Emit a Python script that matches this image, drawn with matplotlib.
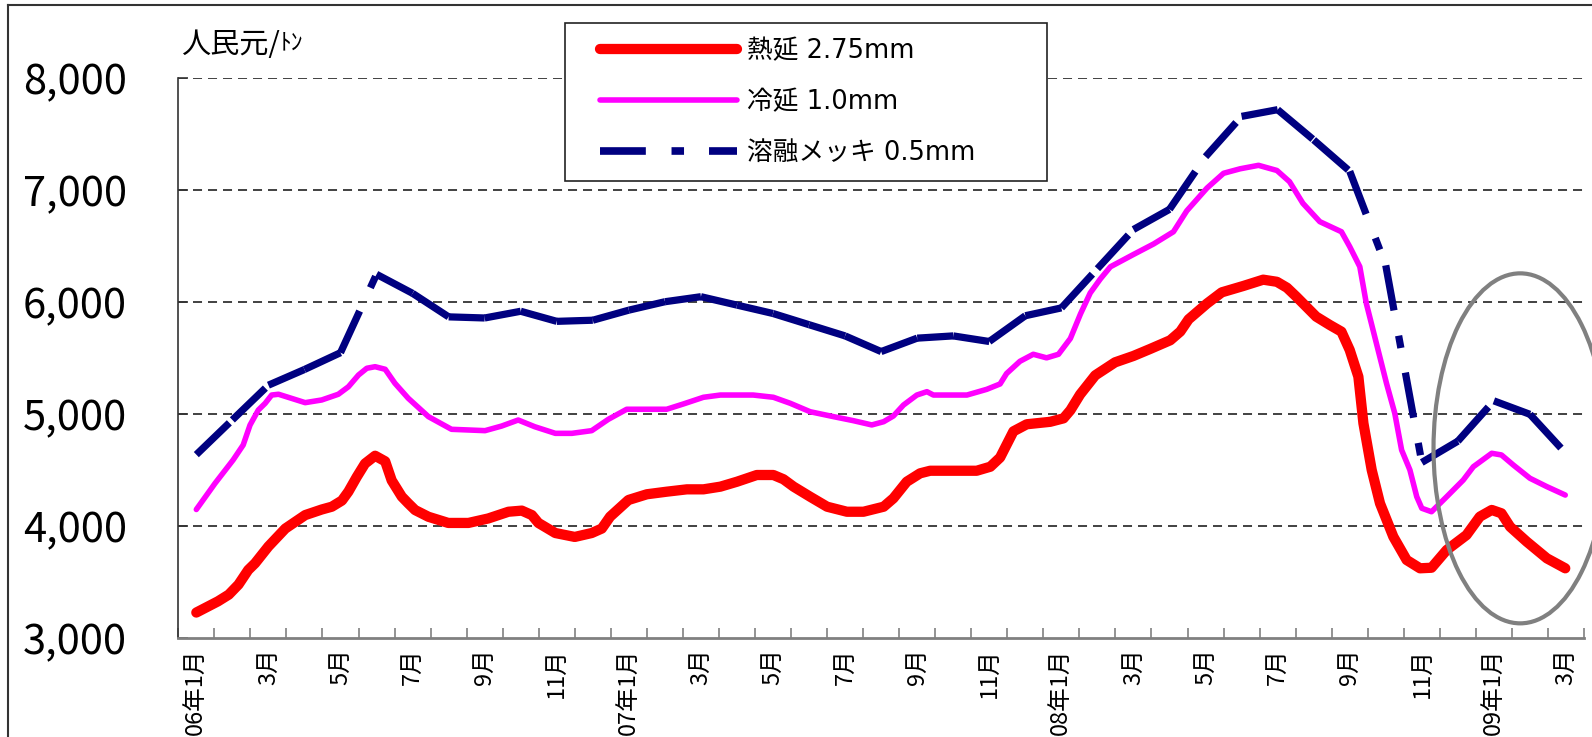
import numpy as np
import matplotlib
matplotlib.use("Agg")
import matplotlib.pyplot as plt
from matplotlib.lines import Line2D
from matplotlib.patches import Ellipse
from matplotlib.legend_handler import HandlerLine2D

plt.rcParams['font.family'] = ['Noto Sans CJK JP', 'DejaVu Sans']
plt.rcParams['lines.scale_dashes'] = False

# 時点は06年1月からの経過月数
red_t = [0.0, 0.3, 0.6, 0.9, 1.17, 1.44, 1.63, 2.0, 2.47, 3.02, 3.48, 3.76, 4.04, 4.22,
         4.45, 4.68, 4.96, 5.24, 5.42, 5.70, 5.88, 6.07, 6.44, 6.99, 7.55, 8.10, 8.66,
         9.03, 9.31, 9.49, 9.96, 10.5, 10.97, 11.25, 11.48, 11.99, 12.5, 13.05, 13.61,
         14.07, 14.54, 15.0, 15.55, 16.01, 16.29, 16.57, 17.03, 17.5, 18.05, 18.51,
         19.07, 19.34, 19.71, 20.08, 20.36, 20.91, 21.65, 22.03, 22.3, 22.67, 23.04,
         23.69, 24.06, 24.25, 24.52, 24.94, 25.49, 26.0, 26.46, 27.02, 27.3, 27.53,
         28.04, 28.45, 29.05, 29.6, 29.98, 30.26, 30.52, 31.07, 31.45, 31.77, 32.0,
         32.24, 32.38, 32.61, 32.84, 33.21, 33.58, 33.95, 34.27, 34.69, 35.24, 35.61,
         35.94, 36.21, 36.45, 36.91, 37.47, 37.98]
red_v = [3230, 3280, 3330, 3390, 3480, 3610, 3670, 3820, 3980, 4100, 4150, 4175, 4230, 4310,
         4440, 4560, 4630, 4580, 4410, 4265, 4205, 4145, 4085, 4030, 4030, 4070, 4130,
         4140, 4100, 4030, 3940, 3905, 3940, 3980, 4086, 4235, 4286, 4309, 4330,
         4330, 4354, 4398, 4458, 4458, 4420, 4354, 4264, 4175, 4130, 4130,
         4175, 4250, 4398, 4473, 4496, 4496, 4496, 4532, 4614, 4848, 4911,
         4933, 4964, 5036, 5177, 5348, 5464, 5521, 5583, 5661, 5739, 5848,
         5989, 6089, 6146, 6202, 6183, 6130, 6050, 5872, 5797, 5738, 5574,
         5336, 4920, 4503, 4205, 3907, 3699, 3625, 3630, 3788, 3922, 4086,
         4146, 4116, 3996, 3863, 3714, 3625]

pink_t = [0.0, 0.52, 1.02, 1.3, 1.49, 1.72, 1.91, 2.09, 2.28, 3.02, 3.48, 3.94, 4.22, 4.5,
          4.73, 4.96, 5.24, 5.51, 5.88, 6.44, 7.08, 8.01, 8.47, 8.93, 9.39, 9.96, 10.42,
          10.97, 11.43, 11.94, 13.05, 13.51, 14.07, 14.54, 15.45, 16.01, 16.48, 17.03,
          17.68, 18.23, 18.74, 19.07, 19.34, 19.62, 19.99, 20.27, 20.45, 21.38, 21.93,
          22.3, 22.48, 22.85, 23.22, 23.59, 23.92, 24.25, 24.53, 24.8, 25.08, 25.36,
          26.0, 26.56, 27.11, 27.48, 28.04, 28.5, 28.96, 29.47, 29.98, 30.33, 30.7,
          31.17, 31.77, 32.0, 32.28, 32.46, 32.74, 33.02, 33.25, 33.44, 33.67, 33.86,
          34.0, 34.27, 34.69, 35.15, 35.43, 35.94, 36.21, 36.54, 37.0, 37.47, 37.98]
pink_v = [4150, 4384, 4592, 4726, 4904, 5038, 5098, 5172, 5179, 5104, 5128, 5179, 5246, 5351,
          5411, 5425, 5402, 5277, 5143, 4979, 4866, 4854, 4895, 4949, 4889, 4830, 4830,
          4854, 4955, 5045, 5045, 5092, 5152, 5172, 5172, 5152, 5098, 5023,
          4979, 4943, 4905, 4934, 4985, 5083, 5172, 5202, 5172, 5172, 5223,
          5271, 5364, 5473, 5536, 5504, 5536, 5677, 5896, 6083, 6208, 6317,
          6427, 6521, 6630, 6817, 7020, 7152, 7192, 7223, 7177, 7077, 6884,
          6720, 6630, 6497, 6318, 5991, 5634, 5277, 5009, 4681, 4503, 4264,
          4161, 4130, 4264, 4413, 4532, 4652, 4637, 4547, 4429, 4354, 4279]

# 溶融メッキは月次
blue_v = [4640, 4950, 5260, 5400, 5550, 6250, 6080, 5870, 5860, 5920, 5830, 5840, 5930,
          6005, 6050, 5975, 5900, 5800, 5700, 5560, 5680, 5700, 5650, 5880, 5950, 6300,
          6650, 6830, 7300, 7660, 7720, 7450, 7170, 6330, 4570, 4760, 5120, 5000, 4650]
blue_t = np.arange(len(blue_v))

month_labels = ['06年1月', '3月', '5月', '7月', '9月', '11月',
                '07年1月', '3月', '5月', '7月', '9月', '11月',
                '08年1月', '3月', '5月', '7月', '9月', '11月',
                '09年1月', '3月']
y_ticks = [3000, 4000, 5000, 6000, 7000, 8000]

names = ['熱延 2.75mm', '冷延 1.0mm', '溶融メッキ 0.5mm']
red_c, pink_c, blue_c = '#FF0000', '#FF00FF', '#000080'
blue_dash = (33, 18.5, 9, 18)

W, H = 1592, 737
fig = plt.figure(figsize=(W / 100, H / 100), dpi=100)
ax = fig.add_axes([178.3 / W, (H - 638.3) / H, (1584 - 178.3) / W, 560 / H])

ax.plot(red_t, red_v, color=red_c, lw=7.4, solid_capstyle='round', solid_joinstyle='round')
ax.plot(pink_t, pink_v, color=pink_c, lw=4, solid_capstyle='round', solid_joinstyle='round')
# 区間ごとに破線パターンをリセットして描く
for i in range(len(blue_v) - 1):
    ax.plot(blue_t[i:i + 2], blue_v[i:i + 2], color=blue_c, lw=5.2,
            dashes=blue_dash, dash_capstyle='butt')

ax.set_xlim(-0.5, 38.5)
ax.set_ylim(3000, 8000)

ax.set_yticks(y_ticks, [f'{v:,}' for v in y_ticks])
ax.tick_params(axis='y', direction='in', length=7, width=1.2, color='#333333',
               labelsize=30, pad=37)
ax.set_xticks(np.arange(0, 39, 2), month_labels, rotation=90)
ax.set_xticks(np.arange(-0.5, 39, 1), minor=True)
ax.tick_params(axis='x', which='major', length=0, labelsize=17, pad=7)
ax.tick_params(axis='x', which='minor', direction='in', length=7, width=1.2, color='#808080')

for v in y_ticks[1:]:
    ax.axhline(v, color='#333333', lw=1.3, dashes=(6.5, 4.3), zorder=0.5)

for s in ['top', 'right']:
    ax.spines[s].set_visible(False)
ax.spines['left'].set_color('#333333')
ax.spines['left'].set_linewidth(1.2)
ax.spines['bottom'].set_color('#808080')
ax.spines['bottom'].set_linewidth(2)

ax.add_patch(Ellipse((36.73, 4696), width=4.81, height=3125, fill=False,
                     edgecolor='#808080', lw=3, clip_on=False, zorder=5))

handles = [Line2D([], [], color=red_c, lw=7.4, solid_capstyle='round'),
           Line2D([], [], color=pink_c, lw=4, solid_capstyle='round'),
           Line2D([], [], color=blue_c, lw=5.5, dashes=blue_dash, dash_capstyle='butt')]
leg = ax.legend(handles, names, loc='upper left',
                bbox_to_anchor=(565 / W, 1 - 23 / H - 0.01, (1047 - 565) / W, 0.01),
                bbox_transform=fig.transFigure, mode='expand',
                handler_map={Line2D: HandlerLine2D(xpad=0.8)},
                prop={'family': ['DejaVu Sans', 'Noto Sans CJK JP'], 'size': 18.5},
                handlelength=6.1, handletextpad=0.4,
                labelspacing=0.97, borderpad=0.58, borderaxespad=0,
                fancybox=False, framealpha=1, edgecolor='#222222')
leg.get_frame().set_linewidth(1.2)

# 単位
unit = fig.text(181 / W, 1 - 45 / H, '人民元/', fontsize=21, va='center', ha='left')
ax.annotate('ﾄﾝ', xy=(1.0, 0.95), xycoords=unit, fontsize=17, va='top', ha='left',
            annotation_clip=False)

# グラフエリアの枠
fig.add_artist(Line2D([8 / W, 8 / W], [0, 1 - 5 / H], color='#333333', lw=1.5))
fig.add_artist(Line2D([8 / W, 1], [1 - 5 / H, 1 - 5 / H], color='#333333', lw=1.5))

fig.savefig('out.png', dpi=100)
